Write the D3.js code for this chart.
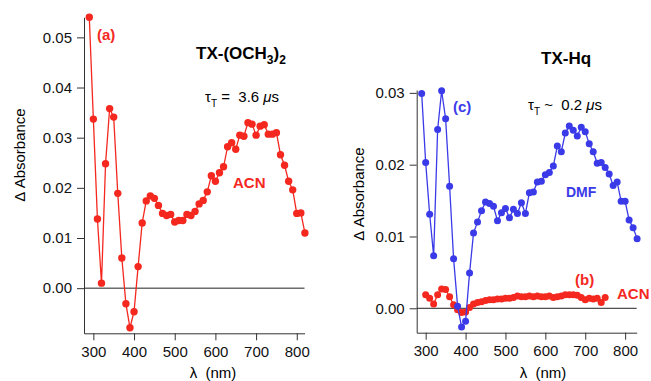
<!DOCTYPE html>
<html>
<head>
<meta charset="utf-8">
<script src="https://cdn.jsdelivr.net/npm/d3@7/dist/d3.min.js"></script>
<style>
  body { margin: 0; background: #fff; }
  svg { font-family: 'Liberation Sans', Arial, sans-serif; }
  .tick line, .domain { stroke: #333; }
  .tick text { fill: #111; font-size: 15px; }
</style>
</head>
<body>
<svg width="651" height="381"></svg>
<script>
// panel (a): TX-(OCH3)2 in ACN
const wlA = d3.range(290, 821, 10)
const absA = [0.054, 0.0337, 0.0138, 0.001, 0.0248, 0.0358, 0.0341, 0.0189, 0.006, -0.0031,
  -0.0079, -0.0047, 0.0043, 0.013, 0.0174, 0.0184, 0.0179, 0.0165, 0.0149, 0.0145,
  0.0147, 0.0132, 0.0135, 0.0135, 0.0147, 0.0145, 0.0153, 0.0168, 0.0175, 0.0192,
  0.0224, 0.0213, 0.023, 0.0242, 0.0282, 0.029, 0.0277, 0.0305, 0.0303, 0.033,
  0.0327, 0.0305, 0.0323, 0.0326, 0.0307, 0.0307, 0.031, 0.0266, 0.0245, 0.0213,
  0.0196, 0.0149, 0.015, 0.011]

// panel (c): TX-Hq in DMF
const wlC = d3.range(290, 831, 10)
const absC = [0.0299, 0.0203, 0.0131, 0.0073, 0.0249, 0.0303, 0.0264, 0.017, 0.0069, 0.0003,
  -0.0026, -0.0018, 0.0049, 0.0105, 0.012, 0.0136, 0.0148, 0.0146, 0.0142, 0.0122,
  0.0133, 0.0139, 0.0126, 0.0138, 0.0132, 0.0147, 0.0132, 0.0161, 0.0162, 0.0176,
  0.0177, 0.0186, 0.0189, 0.0198, 0.0226, 0.0218, 0.0244, 0.0254, 0.0248, 0.024,
  0.0252, 0.0246, 0.0229, 0.0218, 0.0202, 0.0203, 0.0196, 0.0187, 0.0171, 0.0176,
  0.0149, 0.0149, 0.0123, 0.0112, 0.0097]

// panel (b): TX-Hq in ACN
const wlB = d3.range(300, 751, 10)
const absB = [0.0019, 0.0014, 0.0006, 0.0019, 0.0027, 0.0026, 0.0016, 0.0005, -0.0002, -0.0006,
  -0.0005, 0.0001, 0.0006, 0.0008, 0.0009, 0.0011, 0.0012, 0.0012, 0.0013, 0.0013,
  0.0014, 0.0014, 0.0015, 0.0017, 0.0016, 0.0016, 0.0017, 0.0016, 0.0017, 0.0016,
  0.0016, 0.0017, 0.0015, 0.0016, 0.0017, 0.0019, 0.0019, 0.0019, 0.0018, 0.0015,
  0.0012, 0.0014, 0.0013, 0.0014, 0.0008, 0.0015]

const xTicks = [300, 400, 500, 600, 700, 800]
const yTicksLeft = [0, 0.01, 0.02, 0.03, 0.04, 0.05]
const yTicksRight = [0, 0.01, 0.02, 0.03]

const red = '#f4281f'
const blue = '#3a3ae8'

const svg = d3.select('svg')

function panel(opts) {
  const x = d3.scaleLinear().domain(opts.xDomain).range(opts.xRange)
  const y = d3.scaleLinear().domain(opts.yDomain).range(opts.yRange)
  const g = svg.append('g')

  // zero line
  g.append('line')
    .attr('x1', opts.xRange[0]).attr('x2', opts.xRange[1])
    .attr('y1', y(0)).attr('y2', y(0))
    .attr('stroke', '#222').attr('stroke-width', 1)

  g.append('g')
    .attr('transform', `translate(0,${opts.yRange[0]})`)
    .call(d3.axisBottom(x).tickValues(xTicks).tickSize(7).tickSizeOuter(0).tickPadding(6))

  g.append('g')
    .attr('transform', `translate(${opts.xRange[0]},0)`)
    .call(d3.axisLeft(y).tickValues(opts.yTicks).tickFormat(d3.format('.2f'))
      .tickSize(7).tickSizeOuter(0).tickPadding(5))

  g.selectAll('.tick text').attr('fill', '#111')

  const line = d3.line().x((d) => x(d[0])).y((d) => y(d[1]))

  opts.series.forEach((s) => {
    const pts = s.wl.map((w, i) => [w, s.abs[i]])
    g.append('path')
      .datum(pts)
      .attr('d', line)
      .attr('fill', 'none')
      .attr('stroke', s.color)
      .attr('stroke-width', 1.3)
    g.append('g')
      .selectAll('circle')
      .data(pts)
      .enter()
      .append('circle')
      .attr('cx', (d) => x(d[0]))
      .attr('cy', (d) => y(d[1]))
      .attr('r', s.r)
      .attr('fill', s.color)
  })

  // axis titles
  g.append('text')
    .attr('transform', `translate(${opts.yLabel[0]},${opts.yLabel[1]}) rotate(-90)`)
    .attr('text-anchor', 'middle')
    .attr('dy', '0.35em')
    .style('font-size', '15px')
    .text('\u0394 Absorbance')
  g.append('text')
    .attr('x', opts.xLabel[0]).attr('y', opts.xLabel[1])
    .attr('text-anchor', 'middle')
    .attr('dy', '0.35em')
    .style('font-size', '15px')
    .style('white-space', 'pre')
    .text('\u03bb  (nm)')
  return g
}

panel({
  xDomain: [277, 819], xRange: [84, 304.5],
  yDomain: [-0.009, 0.054], yRange: [333.3, 17.3],
  yTicks: yTicksLeft,
  series: [{ wl: wlA, abs: absA, color: red, r: 3.7 }],
  yLabel: [20, 155], xLabel: [213, 373],
})

panel({
  xDomain: [277.5, 829], xRange: [416.7, 636.7],
  yDomain: [-0.0034, 0.0304], yRange: [332.7, 90],
  yTicks: yTicksRight,
  // red (b) sits under the blue trace
  series: [
    { wl: wlB, abs: absB, color: red, r: 3.5 },
    { wl: wlC, abs: absC, color: blue, r: 3.5 },
  ],
  yLabel: [359, 194], xLabel: [543, 373],
})

// annotations
function label(x, y, txt, color, size, bold) {
  return svg.append('text')
    .attr('x', x).attr('y', y)
    .attr('dy', '0.35em')
    .attr('fill', color)
    .style('font-size', size + 'px')
    .style('font-weight', bold ? 'bold' : 'normal')
    .text(txt)
}

label(97, 35, '(a)', red, 15, true)
label(233, 183, 'ACN', red, 15, true)
label(453, 107, '(c)', blue, 15, true)
label(566, 192, 'DMF', blue, 14, true)
label(575, 280, '(b)', red, 15, true)
label(617, 294, 'ACN', red, 15, true)

// compound names with subscripts
const t1 = label(196, 53, 'TX-(OCH', '#000', 17, true)
t1.append('tspan').attr('dy', 5).style('font-size', '12px').text('3')
t1.append('tspan').attr('dy', -5).text(')')
t1.append('tspan').attr('dy', 5).style('font-size', '12px').text('2')

label(541, 58, 'TX-Hq', '#000', 17, true)

function tau(x, y, rest) {
  const t = label(x, y, '\u03c4', '#000', 15, false)
  t.append('tspan').attr('dy', 5).style('font-size', '10px').text('T')
  t.append('tspan').attr('dy', -5).style('white-space', 'pre').text(rest)
  t.append('tspan').style('font-style', 'italic').text('\u03bc')
  t.append('tspan').text('s')
}
tau(205, 97, ' =  3.6 ')
tau(528, 105, ' ~  0.2 ')
</script>
</body>
</html>
